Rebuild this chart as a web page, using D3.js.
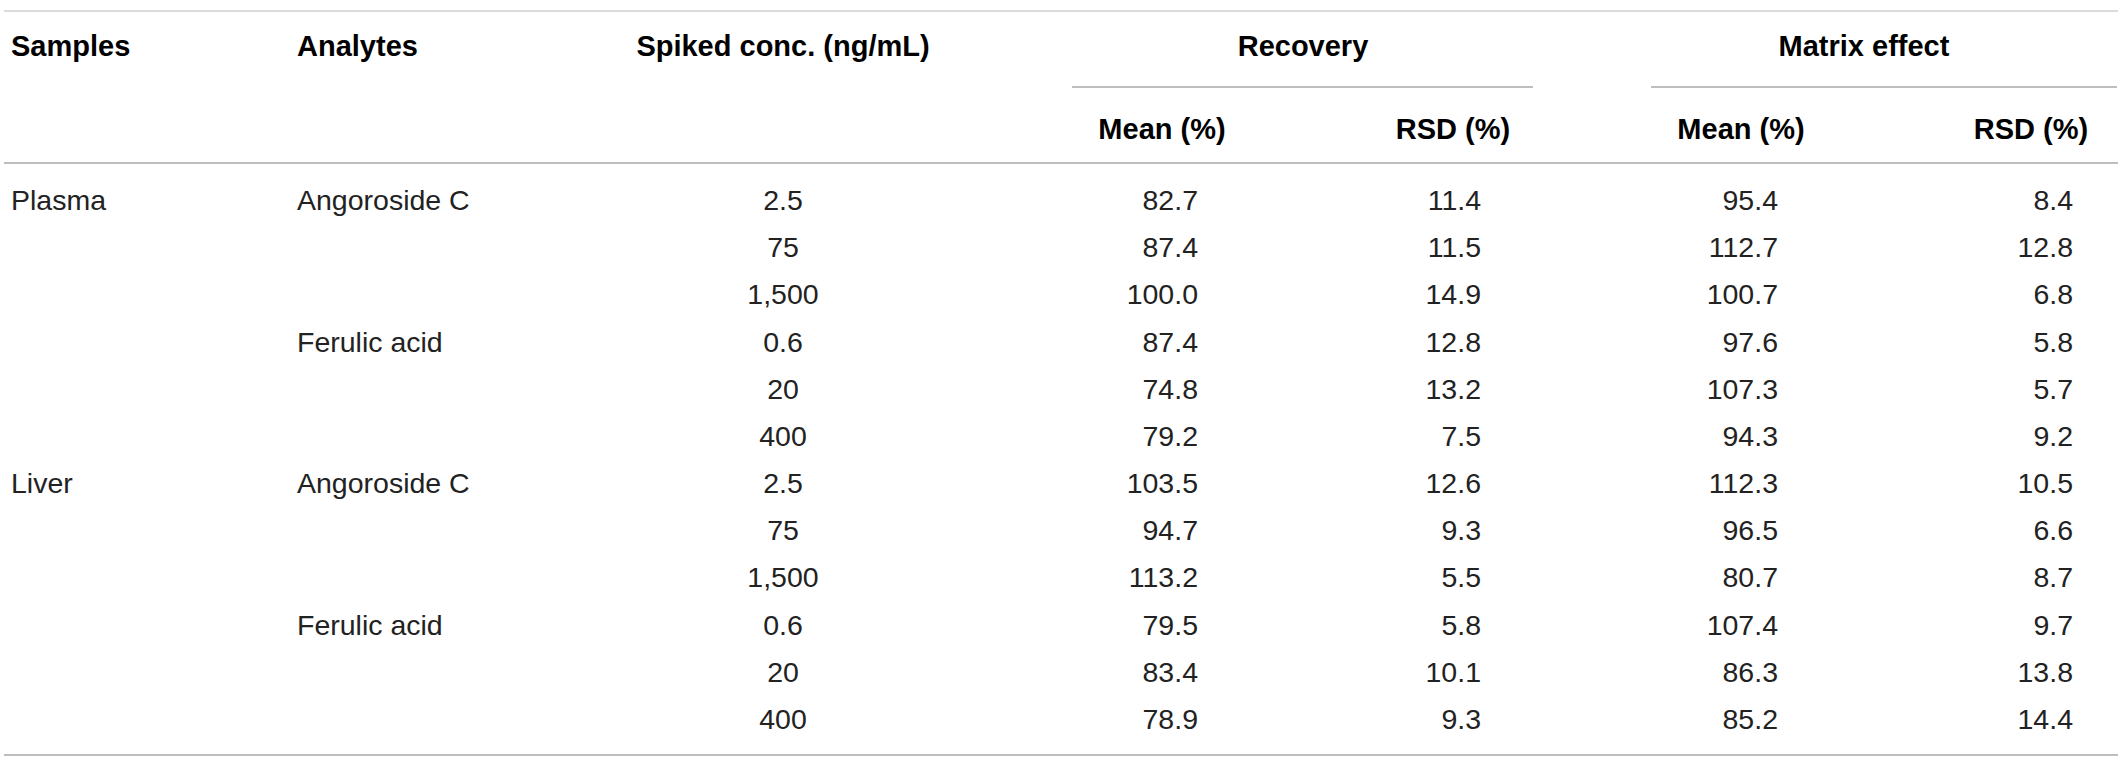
<!DOCTYPE html>
<html>
<head>
<meta charset="utf-8">
<title>Recovery and matrix effect</title>
<script src="https://d3js.org/d3.v7.min.js"></script>
<style>
  body { margin: 0; background: #fff; }
  svg text { font-family: "Liberation Sans", Arial, sans-serif; font-size: 28.5px; fill: #222; }
  svg text.head { font-weight: bold; font-size: 29px; fill: #000; }
</style>
</head>
<body>
<svg width="2128" height="767"></svg>
<script>
// ----- table values, one entry per row ---------------------------------
var samples  = ["Plasma", "", "", "", "", "", "Liver", "", "", "", "", ""];
var analytes = ["Angoroside C", "", "", "Ferulic acid", "", "",
                "Angoroside C", "", "", "Ferulic acid", "", ""];
var spiked   = ["2.5", "75", "1,500", "0.6", "20", "400",
                "2.5", "75", "1,500", "0.6", "20", "400"];
var recMean  = [82.7, 87.4, 100.0, 87.4, 74.8, 79.2, 103.5, 94.7, 113.2, 79.5, 83.4, 78.9];
var recRSD   = [11.4, 11.5, 14.9, 12.8, 13.2, 7.5, 12.6, 9.3, 5.5, 5.8, 10.1, 9.3];
var meMean   = [95.4, 112.7, 100.7, 97.6, 107.3, 94.3, 112.3, 96.5, 80.7, 107.4, 86.3, 85.2];
var meRSD    = [8.4, 12.8, 6.8, 5.8, 5.7, 9.2, 10.5, 6.6, 8.7, 9.7, 13.8, 14.4];

var groupHeads = ["Recovery", "Matrix effect"];
var subHeads   = ["Mean (%)", "RSD (%)", "Mean (%)", "RSD (%)"];

var svg = d3.select("svg");
var fmt = d3.format(".1f");

// row positions
var y = d3.scaleLinear().domain([0, samples.length - 1]).range([200, 719]);

// columns: x anchor and text alignment
var cols = [
  {key: samples,  x: 11,   anchor: "start"},
  {key: analytes, x: 297,  anchor: "start"},
  {key: spiked,   x: 783,  anchor: "middle"},
  {key: recMean,  x: 1198, anchor: "end", num: true},
  {key: recRSD,   x: 1481, anchor: "end", num: true},
  {key: meMean,   x: 1778, anchor: "end", num: true},
  {key: meRSD,    x: 2073, anchor: "end", num: true}
];

// ----- rules ----------------------------------------------------------
function rule(x1, x2, yy, color) {
  svg.append("line")
      .attr("x1", x1).attr("x2", x2)
      .attr("y1", yy).attr("y2", yy)
      .attr("stroke", color).attr("stroke-width", 1.5);
}
rule(4, 2118, 11, "#cfcfcf");
rule(4, 2118, 163, "#a8a8a8");
rule(4, 2118, 755, "#a8a8a8");
rule(1072, 1533, 87, "#a8a8a8");
rule(1651, 2117, 87, "#a8a8a8");

// ----- header ---------------------------------------------------------
var head = svg.append("g");
[["Samples", 11, "start"], ["Analytes", 297, "start"], ["Spiked conc. (ng/mL)", 783, "middle"]]
  .forEach(function(h) {
    head.append("text").attr("class", "head")
        .attr("x", h[1]).attr("y", 46).attr("dy", ".35em")
        .attr("text-anchor", h[2]).text(h[0]);
  });

head.selectAll(".group")
    .data(groupHeads)
  .enter().append("text")
    .attr("class", "head")
    .attr("x", function(d, i) { return [1303, 1864][i]; })
    .attr("y", 46).attr("dy", ".35em")
    .attr("text-anchor", "middle")
    .text(function(d) { return d; });

head.selectAll(".sub")
    .data(subHeads)
  .enter().append("text")
    .attr("class", "head")
    .attr("x", function(d, i) { return [1162, 1453, 1741, 2031][i]; })
    .attr("y", 129).attr("dy", ".35em")
    .attr("text-anchor", "middle")
    .text(function(d) { return d; });

// ----- body -----------------------------------------------------------
cols.forEach(function(c) {
  svg.append("g").selectAll("text")
      .data(c.key)
    .enter().append("text")
      .attr("x", c.x)
      .attr("y", function(d, i) { return y(i); })
      .attr("dy", ".35em")
      .attr("text-anchor", c.anchor)
      .text(function(d) { return c.num ? fmt(d) : d; });
});
</script>
</body>
</html>
